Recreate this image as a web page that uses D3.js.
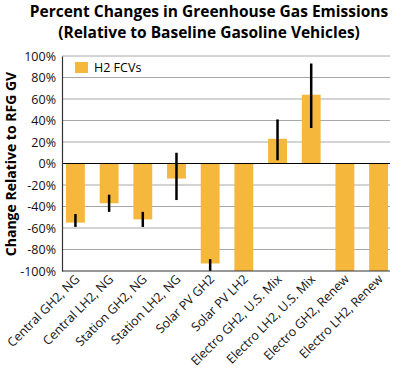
<!DOCTYPE html>
<html>
<head>
<meta charset="utf-8">
<script src="https://cdn.jsdelivr.net/npm/d3@7"></script>
<style>
body { margin: 0; background: #fff; }
</style>
</head>
<body>
<div id="chart"></div>
<script>
// data
var categories = ["Central GH2, NG", "Central LH2, NG", "Station GH2, NG", "Station LH2, NG",
  "Solar PV GH2", "Solar PV LH2", "Electro GH2, U.S. Mix", "Electro LH2, U.S. Mix",
  "Electro GH2, Renew", "Electro LH2, Renew"];
var values = [-55, -37, -52, -14, -93, -100, 23, 64, -100, -100];
var errLow = [-59, -45, -59, -34, -100, null, 3, 33, null, null];
var errHigh = [-47, -29, -45, 10, -89, null, 41, 93, null, null];
var yTicks = [100, 80, 60, 40, 20, 0, -20, -40, -60, -80, -100];

var W = 400, H = 370;
var fontF = "'Open Sans', sans-serif";
var barColor = "#f5b83d";

var svg = d3.select("#chart").append("svg")
  .attr("width", W)
  .attr("height", H);

var x = d3.scaleBand().domain(categories).range([66, 388]).paddingInner(0.44).paddingOuter(0);
var y = d3.scaleLinear().domain([-100, 100]).range([271, 56]);

// gridlines
svg.append("g").selectAll("line")
  .data(yTicks.filter(function(d){ return d != 0 && d != -100; }))
  .join("line")
  .attr("x1", 62).attr("x2", 390)
  .attr("y1", function(d){ return y(d); })
  .attr("y2", function(d){ return y(d); })
  .style("stroke", "#a8a8a8")
  .style("stroke-width", 1);

// bars
svg.append("g").selectAll("rect")
  .data(values)
  .join("rect")
  .attr("x", function(d, i){ return x(categories[i]); })
  .attr("width", x.bandwidth())
  .attr("y", function(d){ return y(Math.max(0, d)); })
  .attr("height", function(d){ return Math.abs(y(d) - y(0)); })
  .style("fill", barColor);

// error bars
svg.append("g").selectAll("line")
  .data(values.map(function(d, i){ return i; }).filter(function(i){ return errLow[i] != null; }))
  .join("line")
  .attr("x1", function(i){ return x(categories[i]) + x.bandwidth()/2; })
  .attr("x2", function(i){ return x(categories[i]) + x.bandwidth()/2; })
  .attr("y1", function(i){ return y(errHigh[i]); })
  .attr("y2", function(i){ return y(errLow[i]); })
  .style("stroke", "black")
  .style("stroke-width", 2.5);

// zero line and axes
svg.append("line")
  .attr("x1", 62).attr("x2", 390)
  .attr("y1", y(0)).attr("y2", y(0))
  .style("stroke", "black").style("stroke-width", 1.2);

var yAxis = svg.append("g")
  .attr("transform", "translate(62,0)")
  .call(d3.axisLeft(y).tickValues(yTicks).tickSize(0).tickPadding(6)
    .tickFormat(function(d){ return d + "%"; }));
yAxis.select(".domain").style("stroke", "#333").style("stroke-width", 1.2);
yAxis.selectAll("text")
  .style("font-family", fontF)
  .style("font-size", "12.5px")
  .style("fill", "#111");

var xAxis = svg.append("g")
  .attr("transform", "translate(0," + y(-100) + ")")
  .call(d3.axisBottom(x).tickSize(0).tickPadding(0));
xAxis.select(".domain").attr("d", "M62,0H390").style("stroke", "#333").style("stroke-width", 1.2);
xAxis.selectAll("text")
  .style("font-family", fontF)
  .style("font-size", "12.5px")
  .style("fill", "#111")
  .attr("text-anchor", "end")
  .attr("dy", 0)
  .attr("y", 0)
  .attr("transform", "translate(5,9) rotate(-45)");

// title
svg.append("text")
  .attr("x", 209).attr("y", 17)
  .attr("text-anchor", "middle")
  .text("Percent Changes in Greenhouse Gas Emissions")
  .style("font-family", fontF).style("font-weight", "bold").style("font-size", "15.5px");
svg.append("text")
  .attr("x", 209).attr("y", 38)
  .attr("text-anchor", "middle")
  .text("(Relative to Baseline Gasoline Vehicles)")
  .style("font-family", fontF).style("font-weight", "bold").style("font-size", "15.5px");

// y label
svg.append("text")
  .attr("transform", "translate(16,164) rotate(-90)")
  .attr("text-anchor", "middle")
  .text("Change Relative to RFG GV")
  .style("font-family", fontF).style("font-weight", "bold").style("font-size", "14px");

// legend
svg.append("rect")
  .attr("x", 75).attr("y", 62).attr("width", 13).attr("height", 11)
  .style("fill", barColor);
svg.append("text")
  .attr("x", 94).attr("y", 72)
  .text("H2 FCVs")
  .style("font-family", fontF).style("font-size", "12.5px");
</script>
</body>
</html>
